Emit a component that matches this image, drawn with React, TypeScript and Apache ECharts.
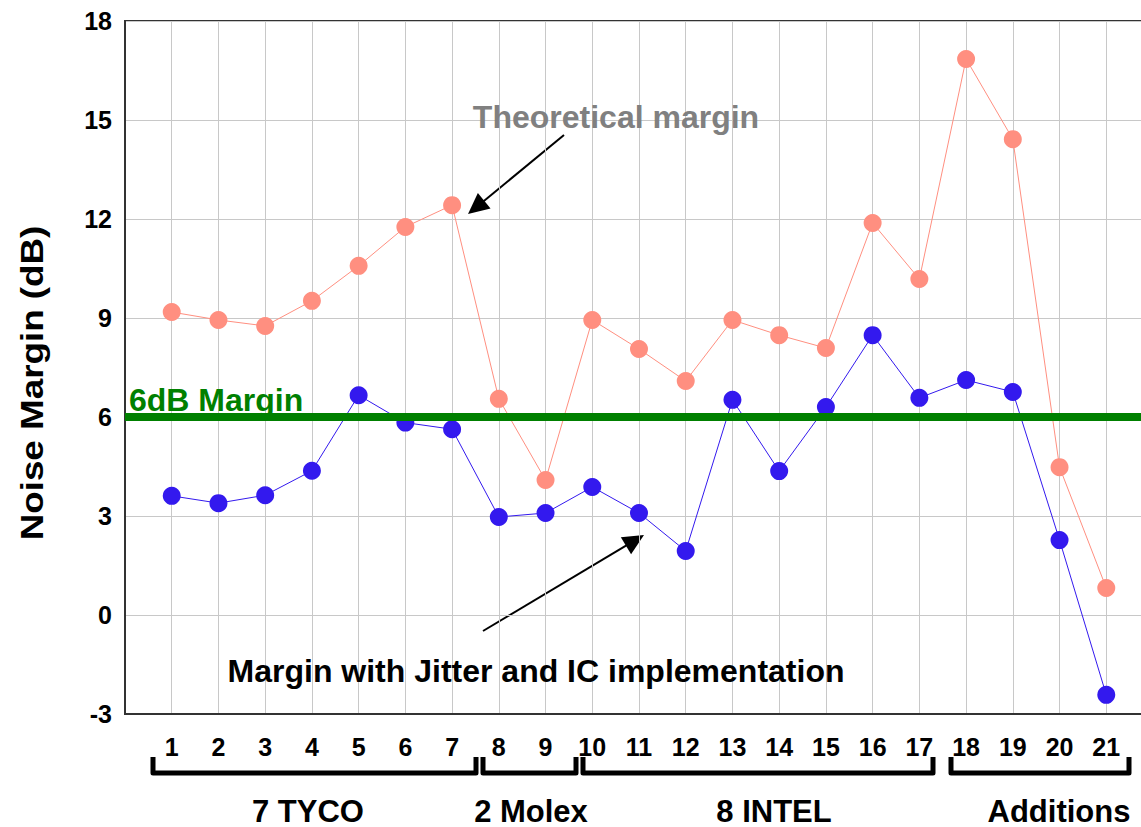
import React, { useEffect, useRef } from "react";
import * as echarts from "echarts";

// Connector index on the x axis
const connectors = [1, 2, 3, 4, 5, 6, 7, 8, 9, 10, 11, 12, 13, 14, 15, 16, 17, 18, 19, 20, 21];

// Theoretical noise margin (dB)
const theoretical = [
  9.18, 8.94, 8.76, 9.52, 10.58, 11.76, 12.42, 6.55, 4.09, 8.94, 8.06,
  7.09, 8.94, 8.48, 8.09, 11.88, 10.18, 16.85, 14.42, 4.48, 0.82,
];

// Margin with jitter and IC implementation (dB)
const withJitter = [
  3.61, 3.39, 3.63, 4.37, 6.66, 5.83, 5.63, 2.97, 3.09, 3.88, 3.09,
  1.94, 6.52, 4.36, 6.3, 8.48, 6.58, 7.12, 6.76, 2.27, -2.42,
];

// Required margin line (dB)
const requiredMargin = 6;

// Y axis ticks
const yMin = -3;
const yMax = 18;
const yStep = 3;

// Vendor groups along the x axis
const groupLabels = ["7 TYCO", "2 Molex", "8 INTEL", "Additions"];

const FONT = "'Liberation Sans', Arial, Helvetica, sans-serif";

// Bracket extents (px) and label centres (px) below the x axis
const bracketPx = [
  [153, 476],
  [483, 576],
  [583, 933],
  [951, 1129],
];
const groupLabelX = [308, 531, 774, 1059];

function arrow(x1: number, y1: number, x2: number, y2: number, len = 21, half = 10) {
  const dx = x2 - x1;
  const dy = y2 - y1;
  const d = Math.hypot(dx, dy);
  const ux = dx / d;
  const uy = dy / d;
  const bx = x2 - ux * len;
  const by = y2 - uy * len;
  const px = -uy;
  const py = ux;
  return [
    {
      type: "line",
      shape: { x1, y1, x2: bx + ux * 2, y2: by + uy * 2 },
      style: { stroke: "#000", lineWidth: 2 },
      silent: true,
    },
    {
      type: "polygon",
      shape: {
        points: [
          [x2, y2],
          [bx + px * half, by + py * half],
          [bx - px * half, by - py * half],
        ],
      },
      style: { fill: "#000" },
      silent: true,
    },
  ];
}

export default function App() {
  const ref = useRef<HTMLDivElement>(null);

  useEffect(() => {
    if (!ref.current) return;
    const chart = echarts.init(ref.current, undefined, { renderer: "svg" });

    const brackets = bracketPx.map(([a, b]) => ({
      type: "polyline",
      shape: {
        points: [
          [a, 757],
          [a, 773],
          [b, 773],
          [b, 757],
        ],
      },
      style: { stroke: "#000", lineWidth: 5, fill: null, lineJoin: "round", lineCap: "butt" },
      silent: true,
    }));

    const groupTexts = groupLabels.map((t, i) => ({
      type: "text",
      x: groupLabelX[i],
      y: 811,
      style: {
        text: t,
        font: `bold 31px ${FONT}`,
        lineHeight: 28,
        fill: "#000",
        align: "center",
        verticalAlign: "middle",
      },
      silent: true,
    }));

    chart.setOption({
      animation: false,
      backgroundColor: "#fff",
      grid: {
        left: 125,
        top: 21,
        right: 0,
        bottom: 113,
        show: true,
        borderColor: "#333",
        borderWidth: 2,
        backgroundColor: "transparent",
      },
      xAxis: {
        type: "value",
        min: 0,
        max: 22,
        interval: 1,
        axisLine: { show: true, onZero: false, lineStyle: { color: "#333", width: 2 } },
        axisTick: { show: false },
        splitLine: { show: true, lineStyle: { color: "#c8c8c8", width: 1 } },
        axisLabel: {
          margin: 20,
          color: "#000",
          fontFamily: FONT,
          fontWeight: "bold",
          fontSize: 25,
          formatter: (v: number) => (v >= 1 && v <= connectors.length ? String(v) : ""),
        },
      },
      yAxis: {
        type: "value",
        min: yMin,
        max: yMax,
        interval: yStep,
        axisLine: { show: true, lineStyle: { color: "#333", width: 2 } },
        axisTick: { show: false },
        splitLine: { show: true, lineStyle: { color: "#c8c8c8", width: 1 } },
        axisLabel: {
          margin: 13,
          color: "#000",
          fontFamily: FONT,
          fontWeight: "bold",
          fontSize: 25,
        },
      },
      series: [
        {
          name: "Theoretical margin",
          type: "line",
          data: connectors.map((c, i) => [c, theoretical[i]]),
          symbol: "circle",
          symbolSize: 18,
          itemStyle: { color: "#FF8F80" },
          lineStyle: { color: "#FF8F80", width: 1 },
          z: 3,
        },
        {
          name: "Margin with Jitter and IC implementation",
          type: "line",
          data: connectors.map((c, i) => [c, withJitter[i]]),
          symbol: "circle",
          symbolSize: 18,
          itemStyle: { color: "#3319EE" },
          lineStyle: { color: "#3319EE", width: 1 },
          z: 3,
          markLine: {
            silent: true,
            symbol: "none",
            label: { show: false },
            lineStyle: { color: "#008000", width: 8, type: "solid" },
            data: [{ yAxis: requiredMargin }],
            z: 4,
          },
        },
      ],
      graphic: [
        {
          type: "text",
          x: 32,
          y: 383,
          rotation: Math.PI / 2,
          scaleX: 1.15,
          style: {
            text: "Noise Margin (dB)",
            font: `bold 32px ${FONT}`,
            fill: "#000",
            align: "center",
            verticalAlign: "middle",
          },
          silent: true,
        },
        {
          type: "text",
          x: 129,
          y: 400,
          style: {
            text: "6dB Margin",
            font: `bold 32px ${FONT}`,
            fill: "#008000",
            align: "left",
            verticalAlign: "middle",
          },
          z: 10,
          silent: true,
        },
        {
          type: "text",
          x: 616,
          y: 117,
          style: {
            text: "Theoretical margin",
            font: `bold 32px ${FONT}`,
            fill: "#808080",
            align: "center",
            verticalAlign: "middle",
          },
          z: 10,
          silent: true,
        },
        {
          type: "text",
          x: 536,
          y: 671,
          style: {
            text: "Margin with Jitter and IC implementation",
            font: `bold 32px ${FONT}`,
            fill: "#000",
            align: "center",
            verticalAlign: "middle",
          },
          z: 10,
          silent: true,
        },
        { type: "group", z: 10, children: arrow(564, 135, 468, 214) },
        { type: "group", z: 10, children: arrow(483, 631, 644, 535) },
        ...brackets,
        ...groupTexts,
      ],
    });

    return () => chart.dispose();
  }, []);

  return (
    <div style={{ position: "absolute", left: 0, top: 0, width: 1141, height: 827, overflow: "hidden" }}>
      <div ref={ref} style={{ width: 1156, height: 827 }} />
    </div>
  );
}
